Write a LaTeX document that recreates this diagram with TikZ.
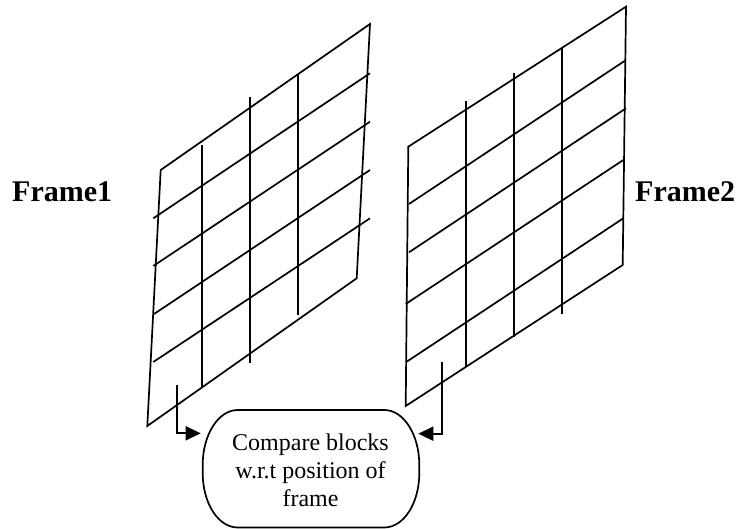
\documentclass[tikz,border=0pt]{standalone}
\usepackage{fontspec}
\setmainfont{Liberation Serif}
\usetikzlibrary{arrows.meta}
\begin{document}
\begin{tikzpicture}[x=1pt,y=-1pt,
  gridline/.style={line width=1.7pt,line join=miter},
  connector/.style={line width=1.7pt,-{Triangle[length=15pt,width=14pt]}},
  framelabel/.style={font=\bfseries\fontsize{30}{34}\selectfont,anchor=base west,inner sep=0pt},
  boxtext/.style={font=\fontsize{24}{28}\selectfont,align=center,inner sep=0pt}]
\useasboundingbox (0,0) rectangle (741,529);
% Frame 1
\draw[gridline] (160.7,170) -- (370,24) -- (356.7,278.3) -- (147.3,426) -- cycle;
\draw[gridline] (153.3,218.3) -- (370,73.3);
\draw[gridline] (153.3,266) -- (370,121.7);
\draw[gridline] (154,314) -- (370,170);
\draw[gridline] (153.3,362) -- (370,218.3);
\draw[gridline] (201.7,145.3) -- (201.7,386.7);
\draw[gridline] (250,97.3) -- (250,362.7);
\draw[gridline] (298,74) -- (298,315);
% Frame 2
\draw[gridline] (408.3,146.7) -- (626,6.7) -- (622.7,265) -- (405.7,406) -- cycle;
\draw[gridline] (409,204) -- (626,60);
\draw[gridline] (409,252.3) -- (626,108.3);
\draw[gridline] (405.7,304) -- (623.3,160);
\draw[gridline] (406.7,361.7) -- (623.3,218.3);
\draw[gridline] (466,101) -- (466,367.3);
\draw[gridline] (514.3,73.3) -- (514.3,337.3);
\draw[gridline] (562.3,48.3) -- (562.3,314);
% labels
\node[framelabel] (f1) at (12,202) {Frame1};
\node[framelabel] (f2) at (635,202) {Frame2};
% compare box
\draw[line width=1.7pt] (237.7,410) -- (384.3,410)
  .. controls (403.6,410) and (419.3,434.6) .. (419.3,465) -- (419.3,473)
  .. controls (419.3,503.4) and (403.6,527.5) .. (384.3,527.5) -- (237.7,527.5)
  .. controls (218.4,527.5) and (202.7,503.4) .. (202.7,473) -- (202.7,465)
  .. controls (202.7,434.6) and (218.4,410) .. (237.7,410) -- cycle;
\node[boxtext] (cmp) at (310.5,470) {Compare blocks\\w.r.t position of\\frame};
% connectors
\coordinate (s1) at (177.3,385.3);
\coordinate (t1) at (200.7,433.3);
\coordinate (s2) at (441.7,361.7);
\coordinate (t2) at (418.3,433.7);
\draw[connector] (s1) |- (t1);
\draw[connector] (s2) |- (t2);
\end{tikzpicture}
\end{document}
